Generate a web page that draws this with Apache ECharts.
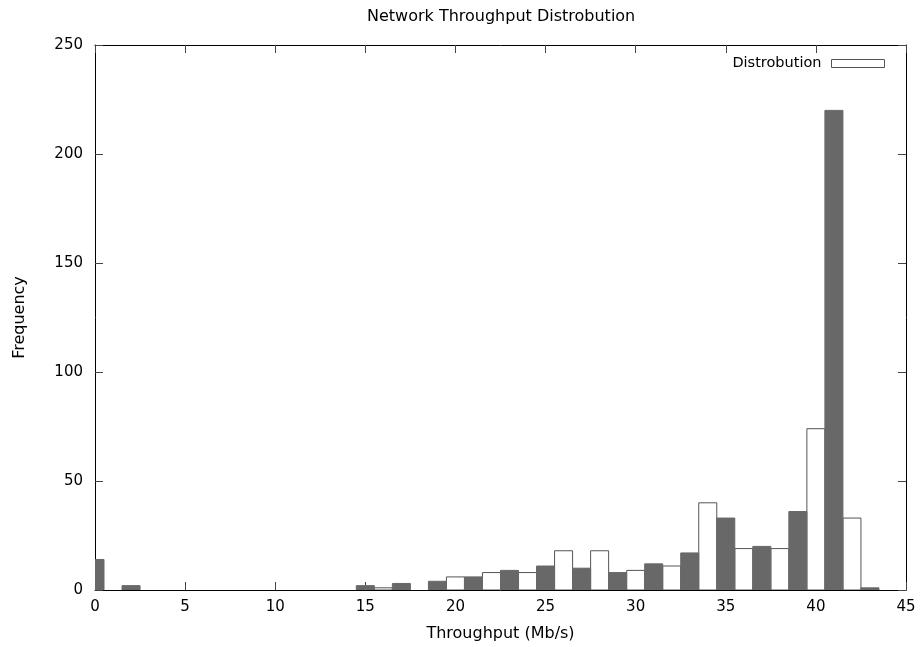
<!DOCTYPE html>
<html>
<head>
<meta charset="utf-8">
<script src="https://cdn.jsdelivr.net/npm/echarts@6/dist/echarts.min.js"></script>
<style>
  html, body { margin: 0; padding: 0; background: #fff; }
  #main { width: 923px; height: 647px; }
</style>
</head>
<body>
<div id="main"></div>
<script>
// histogram bins (Mb/s) and counts, split by the alternating fill
const darkBins = [0, 2, 15, 17, 19, 21, 23, 25, 27, 29, 31, 33, 35, 37, 39, 41, 43];
const darkCounts = [14, 2, 2, 3, 4, 6, 9, 11, 10, 8, 12, 17, 33, 20, 36, 220, 1];
const lightBins = [16, 18, 20, 22, 24, 26, 28, 30, 32, 34, 36, 38, 40, 42];
const lightCounts = [1, 0, 6, 8, 8, 18, 18, 9, 11, 40, 19, 19, 74, 33];

const xTicks = [0, 5, 10, 15, 20, 25, 30, 35, 40, 45];
const yTicks = [0, 50, 100, 150, 200, 250];

const myChart = echarts.init(document.getElementById('main'));

const FONT = 'DejaVu Sans';

// one box per bin, 1 Mb/s wide, centred on the bin value
const boxRenderer = (fill, stroke) => (params, api) => {
  const x = api.value(0);
  const y = api.value(1);
  if (!y) return null;
  const p0 = api.coord([x - 0.5, y]);
  const p1 = api.coord([x + 0.5, 0]);
  return {
    type: 'rect',
    shape: { x: p0[0], y: p0[1], width: p1[0] - p0[0], height: p1[1] - p0[1] },
    style: { fill: fill, stroke: stroke, lineWidth: 1 },
  };
};

const axisCommon = {
  type: 'value',
  splitLine: { show: false },
  axisLine: { show: true, onZero: false, lineStyle: { color: '#000', width: 1 } },
  axisTick: { show: true, inside: true, length: 8, lineStyle: { color: '#444' } },
};

const option = {
  animation: false,
  backgroundColor: '#fff',
  title: {
    text: 'Network Throughput Distrobution',
    left: 362, // centred over the plot area
    top: 4,
    textStyle: { fontFamily: FONT, fontSize: 16, fontWeight: 'normal', color: '#000' },
  },
  legend: {
    right: 33,
    top: 51,
    align: 'right',
    icon: 'rect',
    itemWidth: 53,
    itemHeight: 8,
    textStyle: { fontFamily: FONT, fontSize: 14.5, color: '#000', padding: [0, 5, 0, 0] },
    data: [
      {
        name: 'Distrobution',
        itemStyle: { color: '#fff', borderColor: '#555', borderWidth: 1 },
      },
    ],
  },
  grid: { left: 95, right: 17, top: 45, bottom: 56 },
  xAxis: [
    Object.assign({}, axisCommon, {
      min: 0,
      max: 45,
      interval: 5,
      name: 'Throughput (Mb/s)',
      nameLocation: 'middle',
      nameGap: 36,
      nameTextStyle: { fontFamily: FONT, fontSize: 16, color: '#000' },
      axisLabel: {
        margin: 10,
        fontFamily: FONT,
        fontSize: 15,
        color: '#000',
        formatter: (v) => (xTicks.includes(v) ? String(v) : ''),
      },
    }),
    Object.assign({}, axisCommon, {
      position: 'top',
      min: 0,
      max: 45,
      interval: 5,
      axisLabel: { show: false },
    }),
  ],
  yAxis: [
    Object.assign({}, axisCommon, {
      min: 0,
      max: 250,
      interval: 50,
      name: 'Frequency',
      nameLocation: 'middle',
      nameGap: 67,
      nameTextStyle: { fontFamily: FONT, fontSize: 16, color: '#000' },
      axisLabel: {
        margin: 12,
        fontFamily: FONT,
        fontSize: 15,
        color: '#000',
        formatter: (v) => (yTicks.includes(v) ? String(v) : ''),
      },
    }),
    Object.assign({}, axisCommon, {
      position: 'right',
      min: 0,
      max: 250,
      interval: 50,
      axisLabel: { show: false },
    }),
  ],
  series: [
    {
      name: 'Distrobution',
      type: 'custom',
      clip: true,
      itemStyle: { color: '#fff', borderColor: '#555' },
      renderItem: boxRenderer('#fff', '#555'),
      data: lightBins.map((b, i) => [b, lightCounts[i]]),
    },
    {
      name: 'dark',
      type: 'custom',
      clip: true,
      renderItem: boxRenderer('#686868', '#686868'),
      data: darkBins.map((b, i) => [b, darkCounts[i]]),
    },
  ],
};

myChart.setOption(option);
</script>
</body>
</html>
